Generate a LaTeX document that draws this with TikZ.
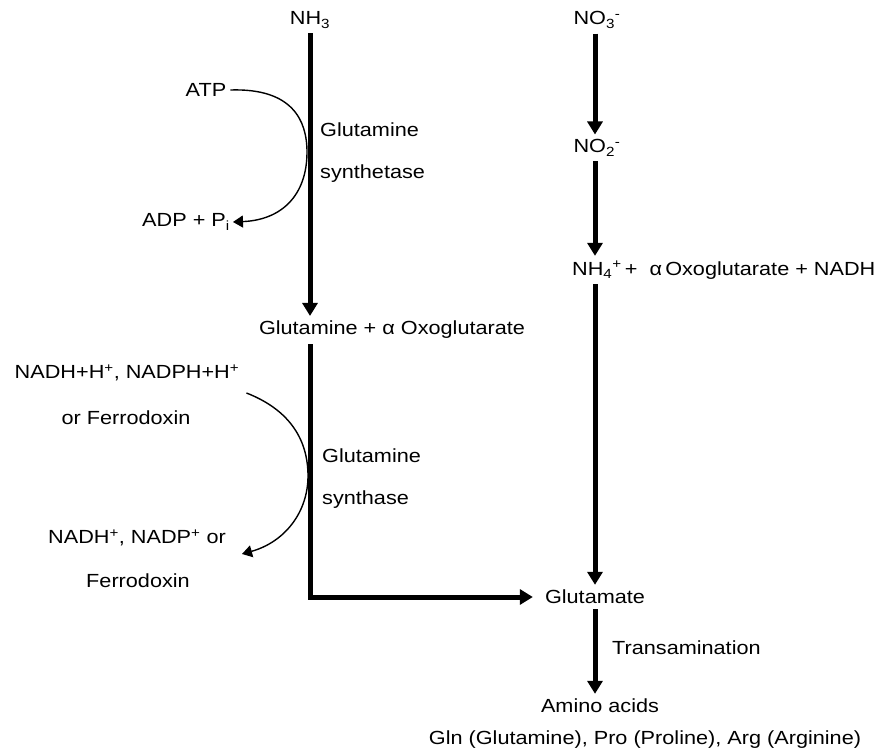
\documentclass[tikz,border=0pt]{standalone}
\usepackage{fontspec}
\setmainfont{Liberation Sans}[FakeStretch=1.14]
\usetikzlibrary{arrows.meta}
\begin{document}
\begin{tikzpicture}[x=1pt,y=-1pt,
  lbl/.style={inner xsep=0pt,inner ysep=5pt,font=\fontsize{19}{22}\selectfont},
  flow/.style={line width=5pt,-{Triangle[width=15pt,length=13pt]}},
  react/.style={line width=1.4pt,-{Triangle[width=12pt,length=10pt]}}]
\useasboundingbox[fill=white] (0,0) rectangle (887,754);
% left column
\node[lbl] (nh3) at (310,20) {NH\textsubscript{3}};
\node[lbl,inner xsep=4pt] (atp) at (206,90) {ATP};
\node[lbl,anchor=west] (gs1) at (320,130) {Glutamine};
\node[lbl,anchor=west] (gs2) at (320,174) {synthetase};
\node[lbl,inner xsep=3pt] (adp) at (186,222) {ADP + P\textsubscript{i}};
\node[lbl] (glnox) at (392,330) {Glutamine + α Oxoglutarate};
\node[lbl] (nadh1) at (127,373) {NADH+H\textsuperscript{+}, NADPH+H\textsuperscript{+}};
\node[lbl] (fer1) at (126,418) {or Ferrodoxin};
\node[lbl,anchor=west] (gt1) at (322,456) {Glutamine};
\node[lbl,anchor=west] (gt2) at (322,500) {synthase};
\node[lbl] (nadh2) at (137,538) {NADH\textsuperscript{+}, NADP\textsuperscript{+} or};
\node[lbl] (fer2) at (138,581) {Ferrodoxin};
% right column
\node[lbl] (no3) at (597,20) {NO\textsubscript{3}\textsuperscript{-}};
\node[lbl] (no2) at (597,148) {NO\textsubscript{2}\textsuperscript{-}};
\node[lbl,anchor=west] (nh4) at (572,270) {NH\textsubscript{4}\textsuperscript{+}\,+\ \ α\,Oxoglutarate + NADH};
\node[lbl,inner xsep=12pt] (glu) at (595,597) {Glutamate};
\node[lbl,anchor=west] (trans) at (612,648) {Transamination};
\node[lbl] (amino) at (600,706) {Amino acids};
\node[lbl] (aalist) at (645,740) {Gln (Glutamine), Pro (Proline), Arg (Arginine)};
% thick arrows
\draw[flow] (nh3.south) -- (nh3.south |- glnox.north);
\draw[flow] (nh3.south |- glnox.south) -- (nh3.south |- glu.west) -- (glu.west);
\draw[flow] (no3.south -| glu) -- (no2.north -| glu);
\draw[flow] (no2.south -| glu) -- (nh4.north -| glu);
\draw[flow] (nh4.south -| glu) -- (glu.north);
\draw[flow] (glu.south) -- (amino.north -| glu);
% thin reaction curves
\draw[react] (atp.east) .. controls (292,88) and (307,120) .. (307,152)
  .. controls (307,195) and (282,220) .. (adp.east);
\draw[react] ([shift={(7,20)}]nadh1.east) .. controls (290,410) and (308,440) .. (308,476)
  .. controls (308,512) and (285,542) .. ([shift={(16,16)}]nadh2.east);
\end{tikzpicture}
\end{document}
